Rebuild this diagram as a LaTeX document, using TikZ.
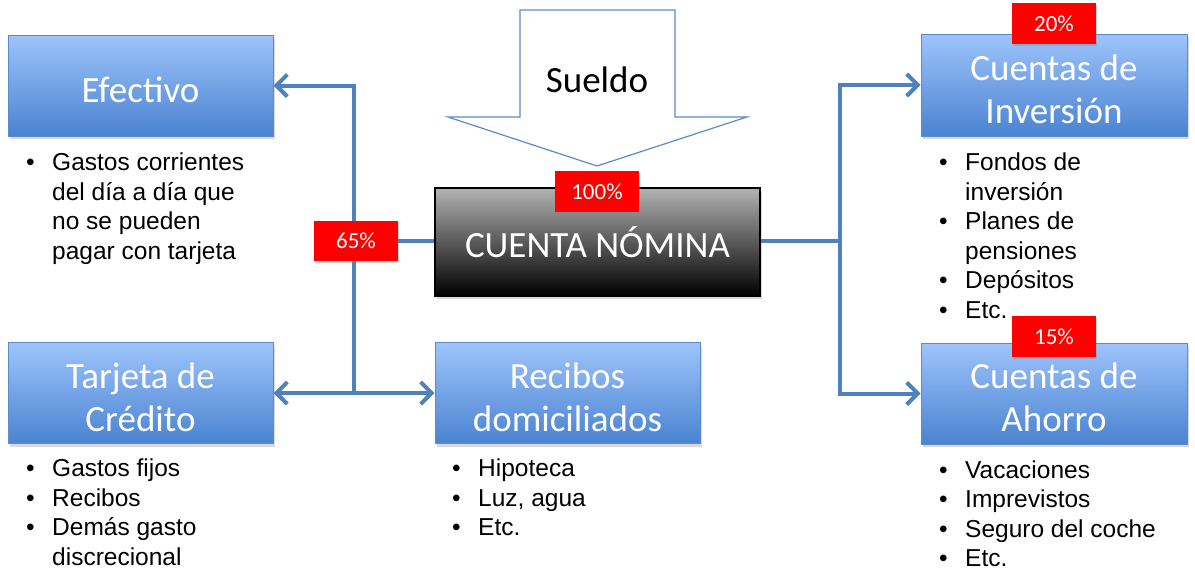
\documentclass[tikz,border=0pt]{standalone}
\usepackage{fontspec}
\setmainfont{Liberation Sans}
\newfontfamily\calib{Carlito}
\usetikzlibrary{arrows.meta,shadows}
\definecolor{boxtop}{HTML}{9EC4FB}
\definecolor{boxbot}{HTML}{4A83D1}
\definecolor{boxline}{HTML}{5B8BC9}
\definecolor{conncol}{HTML}{4F81BD}
\newcommand{\blist}[1]{\fontsize{24.5}{29.5}\selectfont\begin{tabular}{@{}p{26pt}@{}l@{}}#1\end{tabular}}
\newcommand{\tstrut}{\rule{0pt}{34pt}}
\begin{document}
\begin{tikzpicture}[x=1pt,y=-1pt,
  bluebox/.style={draw=boxline, line width=1pt, top color=boxtop, bottom color=boxbot,
    minimum width=265pt, minimum height=101pt, inner sep=0pt, text=white,
    font=\calib\fontsize{37}{43}\selectfont, align=center,
    drop shadow={opacity=0.3, shadow xshift=1.5pt, shadow yshift=-3pt}},
  darkbox/.style={draw=black, line width=1.2pt, top color=black!30, bottom color=black,
    minimum width=325pt, minimum height=108pt, inner sep=0pt, text=white,
    font=\calib\fontsize{37}{43}\selectfont,
    drop shadow={opacity=0.3, shadow xshift=1.5pt, shadow yshift=-3pt}},
  pct/.style={fill=red, minimum width=84pt, minimum height=41pt, inner sep=0pt,
    text=white, font=\calib\fontsize{23}{26}\selectfont,
    drop shadow={opacity=0.3, shadow xshift=1pt, shadow yshift=-2pt}},
  conn/.style={draw=conncol, line width=4pt},
  tip/.style={-{Straight Barb[length=11pt,width=22pt,line width=4pt]}},
  both/.style={{Straight Barb[length=11pt,width=22pt,line width=4pt]}-{Straight Barb[length=11pt,width=22pt,line width=4pt]}},
  listnode/.style={anchor=north west, inner sep=0pt, text=black},
  bigarrow/.style={draw=boxline, line width=1.2pt, fill=white}
]
\useasboundingbox (0,0) rectangle (1195,582);

% big arrow "Sueldo"
\coordinate (a1) at (520,10);
\coordinate (a2) at (675,10);
\coordinate (a3) at (675,117);
\coordinate (a4) at (747,117);
\coordinate (a5) at (597,166);
\coordinate (a6) at (448,117);
\coordinate (a7) at (520,117);
\draw[bigarrow] (a1) -- (a2) -- (a3) -- (a4) -- (a5) -- (a6) -- (a7) -- cycle;
\node[font=\calib\fontsize{37}{43}\selectfont, text=black] (sueldo) at (597,80) {Sueldo};

% boxes
\node[bluebox] (efe) at (140.5,85.5) {\tstrut Efectivo};
\node[bluebox] (tar) at (140.5,393) {\tstrut Tarjeta de\\Crédito};
\node[bluebox] (rec) at (567.5,393) {\tstrut Recibos\\domiciliados};
\node[bluebox, minimum width=266pt, minimum height=102pt] (inv) at (1054,85) {\tstrut Cuentas de\\Inversión};
\node[bluebox, minimum width=266pt] (aho) at (1054,393.5) {\tstrut Cuentas de\\Ahorro};
\node[darkbox] (nom) at (597.5,242) {CUENTA NÓMINA};

% connectors
\coordinate (jB) at (354, 393);
\coordinate (jR) at (840, 241);
\draw[conn] (nom.west |- jR) -- (jR -| jB);
\draw[conn,tip] (jB) |- (efe.east);
\draw[conn,both] (tar.east) -- (rec.west);
\draw[conn] (nom.east |- jR) -- (jR);
\draw[conn,tip] (jR) |- (inv.west);
\draw[conn,tip] (jR) |- (aho.west);

% percentage labels
\node[pct] (p100) at (597,191.5) {100\%};
\node[pct, minimum height=40pt] (p65) at (356,241) {65\%};
\node[pct] (p20) at (1054,23.5) {20\%};
\node[pct] (p15) at (1054,336.5) {15\%};

% bullet lists
\node[listnode] (l1) at (26,149.9) {\blist{• & Gastos corrientes\\ & del día a día que\\ & no se pueden\\ & pagar con tarjeta}};
\node[listnode] (l2) at (939,149.9) {\blist{• & Fondos de\\ & inversión\\• & Planes de\\ & pensiones\\• & Depósitos\\• & Etc.}};
\node[listnode] (l3) at (26,455.9) {\blist{• & Gastos fijos\\• & Recibos\\• & Demás gasto\\ & discrecional}};
\node[listnode] (l4) at (452,455.9) {\blist{• & Hipoteca\\• & Luz, agua\\• & Etc.}};
\node[listnode] (l5) at (939,457.4) {\blist{• & Vacaciones\\• & Imprevistos\\• & Seguro del coche\\• & Etc.}};
\end{tikzpicture}
\end{document}
